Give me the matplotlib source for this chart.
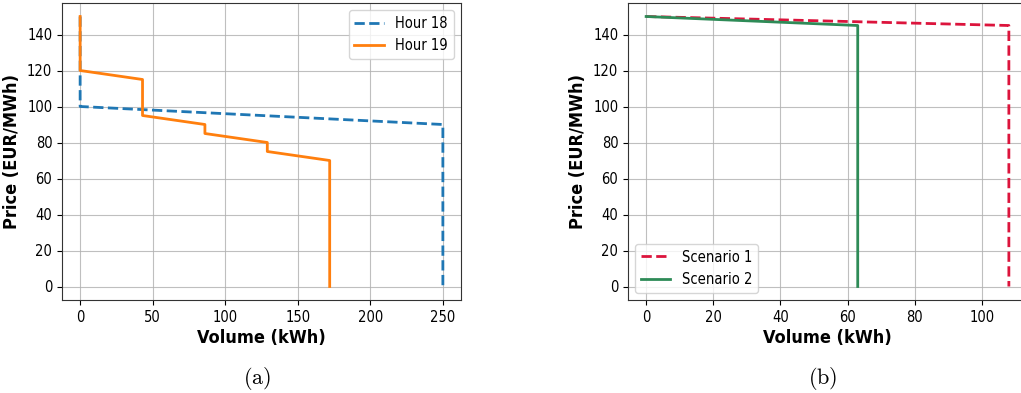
import matplotlib
matplotlib.use("Agg")
import matplotlib.pyplot as plt

plt.rcParams['mathtext.fontset'] = 'cm'
plt.rcParams['font.stretch'] = 'condensed'

# Panel (a)
hour18_volume = [0, 0, 250, 250]
hour18_price = [150, 100, 90, 0]
hour19_volume = [0, 0, 43, 43, 86, 86, 129, 129, 172, 172]
hour19_price = [150, 120, 115, 95, 90, 85, 80, 75, 70, 0]

# Panel (b)
scen1_volume = [0, 108, 108]
scen1_price = [150, 145, 0]
scen2_volume = [0, 63, 63]
scen2_price = [150, 145, 0]

W, H = 1021, 393
fig = plt.figure(figsize=(W / 100, H / 100), dpi=100)

def px_axes(x0, y0, x1, y1):
    return fig.add_axes([x0 / W, 1 - y1 / H, (x1 - x0) / W, (y1 - y0) / H])

ax1 = px_axes(62, 3, 461, 300)
ax2 = px_axes(628, 3, 1027, 300)

ax1.plot(hour18_volume, hour18_price, linestyle='--', color='#1f77b4', lw=2, label='Hour 18')
ax1.plot(hour19_volume, hour19_price, linestyle='-', color='#ff7f0e', lw=2, label='Hour 19')
ax1.legend(loc='upper right', fontsize=10.5)

ax2.plot(scen1_volume, scen1_price, linestyle='--', color='#DC143C', lw=2, label='Scenario 1')
ax2.plot(scen2_volume, scen2_price, linestyle='-', color='#2E8B57', lw=2, label='Scenario 2')
ax2.legend(loc='lower left', fontsize=10.5)

for ax in (ax1, ax2):
    ax.grid(True, color='#b0b0b0', alpha=0.8)
    ax.set_axisbelow(True)
    ax.set_yticks(range(0, 141, 20))
    ax.tick_params(labelsize=10.5)
    ax.set_xlabel('Volume (kWh)', fontsize=13, fontweight='bold', labelpad=3)
    ax.set_ylabel('Price (EUR/MWh)', fontsize=13, fontweight='bold', labelpad=4)
    for s in ax.spines.values():
        s.set_color('#333333')

ax1.set_xticks(range(0, 251, 50))
ax2.set_xticks(range(0, 101, 20))

fig.text(257 / W, 1 - 378 / H, r'$\mathrm{(a)}$', ha='center', va='center', fontsize=16)
fig.text(823 / W, 1 - 378 / H, r'$\mathrm{(b)}$', ha='center', va='center', fontsize=16)

fig.savefig('out.png', dpi=100)
